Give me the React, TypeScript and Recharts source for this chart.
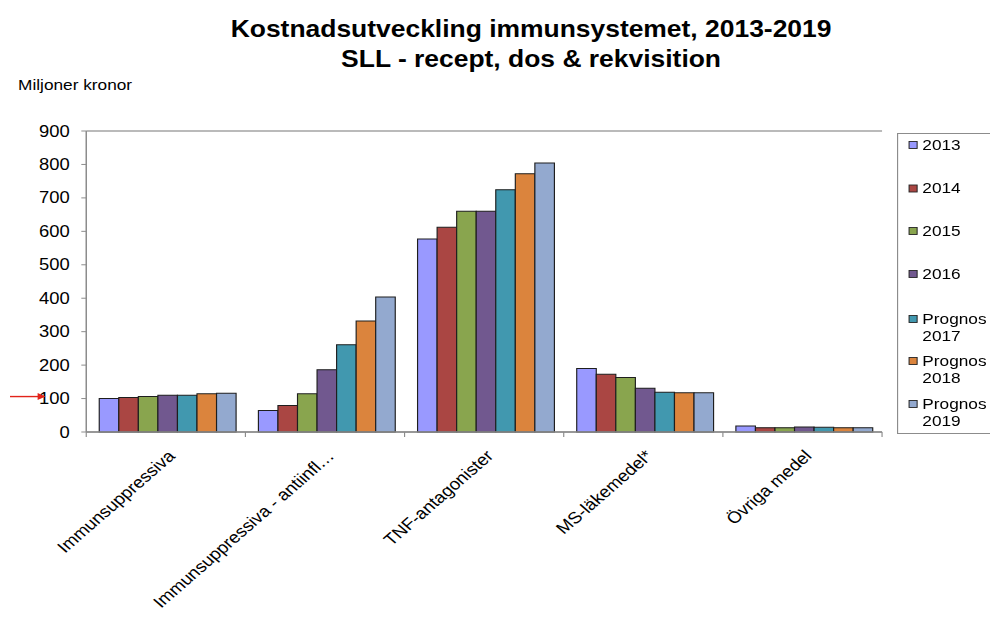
import React from 'react';
import { BarChart, Bar, XAxis, YAxis, CartesianGrid, Legend } from 'recharts';

// ---- data -------------------------------------------------------------
const CATEGORIES = [
  'Immunsuppressiva',
  'Immunsuppressiva - antiinfl…',
  'TNF-antagonister',
  'MS-läkemedel*',
  'Övriga medel',
];

const SERIES_KEYS = ['y2013', 'y2014', 'y2015', 'y2016', 'p2017', 'p2018', 'p2019'];
const SERIES_LABELS = [
  ['2013'],
  ['2014'],
  ['2015'],
  ['2016'],
  ['Prognos', '2017'],
  ['Prognos', '2018'],
  ['Prognos', '2019'],
];

// Miljoner kronor per category, one array per year
const V2013 = [100, 64, 577, 190, 18];
const V2014 = [103, 79, 612, 173, 13];
const V2015 = [106, 114, 660, 163, 13];
const V2016 = [110, 186, 660, 131, 15];
const P2017 = [110, 261, 724, 119, 14];
const P2018 = [114, 332, 772, 117, 13];
const P2019 = [116, 404, 804, 117, 13];
const SERIES_VALUES = [V2013, V2014, V2015, V2016, P2017, P2018, P2019];

const Y_TICKS = [0, 100, 200, 300, 400, 500, 600, 700, 800, 900];
const MARKED_TICK = 100;

// ---- styling ----------------------------------------------------------
const COLORS = ['#9999FF', '#AA4643', '#89A54E', '#71588F', '#4198AF', '#DB843D', '#93A9CF'];
const FONT = '"Liberation Sans", Arial, Helvetica, sans-serif';
const GRID = '#A3A3A3';
const AXIS = '#8C8C8C';

// the whole drawing is laid out on a narrower canvas and widened on the page
const STRETCH = 1.15;
const W = 860;
const H = 617;
const MARGIN = { top: 131, right: 93, bottom: 125, left: 0 };
const Y_AXIS_W = 75;
const X_AXIS_H = 60;
const PLOT_W = W - MARGIN.left - Y_AXIS_W - MARGIN.right;
const BAND = PLOT_W / CATEGORIES.length;

const LEGEND_LEFT = 780;
const LEGEND_TOP = 133;
const LEGEND_H = 300;
const LEGEND_BASELINES = [150, 193.5, 236, 279, 324, 366, 409];
const LEGEND_LINE = 17.5;

const rows = CATEGORIES.map((name, i) => {
  const row: Record<string, string | number> = { name };
  SERIES_KEYS.forEach((k, s) => {
    row[k] = SERIES_VALUES[s][i];
  });
  return row;
});

function YTick(props: any) {
  const { x, y, payload } = props;
  return (
    <g>
      <text x={x} y={y} dy={5.6} textAnchor="end" fontSize={16} fill="#000" fontFamily={FONT}>
        {payload.value}
      </text>
      {payload.value === MARKED_TICK && (
        <g>
          <line x1={x - 52} y1={y - 2} x2={x - 27} y2={y - 2} stroke="#E2231A" strokeWidth={1.4} />
          <polygon points={`${x - 21},${y - 2} ${x - 28},${y - 5.5} ${x - 28},${y + 1.5}`} fill="#E2231A" />
        </g>
      )}
    </g>
  );
}

function XTick(props: any) {
  const { x, y, payload, index } = props;
  const left = x - BAND / 2;
  const right = x + BAND / 2;
  const ax = x + 9;
  const ay = y + 25;
  return (
    <g>
      <line x1={left} y1={y} x2={left} y2={y + 5} stroke={AXIS} strokeWidth={1} />
      {index === CATEGORIES.length - 1 && (
        <line x1={right} y1={y} x2={right} y2={y + 5} stroke={AXIS} strokeWidth={1} />
      )}
      <text
        x={ax}
        y={ay}
        textAnchor="end"
        fontSize={16.3}
        fill="#000"
        fontFamily={FONT}
        transform={`rotate(-45, ${ax}, ${ay})`}
      >
        {payload.value}
      </text>
    </g>
  );
}

function LegendBox() {
  const w = W - LEGEND_LEFT;
  return (
    <svg width={w} height={LEGEND_H + 2} style={{ display: 'block', overflow: 'visible' }}>
      <path
        d={`M${w + 2} 0.5 H0.5 V${LEGEND_H + 0.5} H${w + 2}`}
        stroke={AXIS}
        strokeWidth={1}
        fill="#fff"
      />
      {SERIES_LABELS.map((lines, i) => {
        const base = LEGEND_BASELINES[i] - LEGEND_TOP;
        return (
          <g key={SERIES_KEYS[i]}>
            <rect
              x={10.5}
              y={base - 8.5}
              width={7}
              height={7}
              fill={COLORS[i]}
              stroke="#262626"
              strokeWidth={0.9}
            />
            <text fontSize={15} fill="#000" fontFamily={FONT}>
              {lines.map((t, j) => (
                <tspan key={j} x={22} y={base + j * LEGEND_LINE}>
                  {t}
                </tspan>
              ))}
            </text>
          </g>
        );
      })}
    </svg>
  );
}

export default function App() {
  return (
    <div
      style={{
        position: 'absolute',
        left: 0,
        top: 0,
        width: W,
        height: H,
        background: '#fff',
        fontFamily: FONT,
        transform: `scaleX(${STRETCH})`,
        transformOrigin: '0 0',
      }}
    >
      <svg
        width={W}
        height={H}
        style={{ position: 'absolute', left: 0, top: 0, pointerEvents: 'none' }}
      >
        <text x={461.8} y={37} textAnchor="middle" fontSize={23} fontWeight="bold" fill="#000" fontFamily={FONT}>
          Kostnadsutveckling immunsystemet, 2013-2019
        </text>
        <text x={461.8} y={67} textAnchor="middle" fontSize={23} fontWeight="bold" fill="#000" fontFamily={FONT}>
          SLL - recept, dos &amp; rekvisition
        </text>
        <text x={15.7} y={90} fontSize={15} fill="#000" fontFamily={FONT}>
          Miljoner kronor
        </text>
      </svg>
      <BarChart
        width={W}
        height={H}
        data={rows}
        margin={MARGIN}
        barCategoryGap={11.3}
        barGap={0}
        style={{ position: 'absolute', left: 0, top: 0 }}
      >
        <CartesianGrid vertical={false} stroke={GRID} strokeWidth={1.3} />
        <XAxis
          dataKey="name"
          height={X_AXIS_H}
          tickLine={false}
          tickSize={0}
          tickMargin={0}
          interval={0}
          axisLine={{ stroke: AXIS, strokeWidth: 1.3 }}
          tick={<XTick />}
        />
        <YAxis
          yAxisId="left"
          width={Y_AXIS_W}
          domain={[0, 900]}
          ticks={Y_TICKS}
          interval={0}
          tickSize={4.3}
          tickMargin={10}
          tickLine={{ stroke: AXIS }}
          axisLine={{ stroke: AXIS, strokeWidth: 1.3 }}
          tick={<YTick />}
        />
        <YAxis
          yAxisId="right"
          orientation="right"
          width={0}
          domain={[0, 900]}
          ticks={Y_TICKS}
          tick={false}
          tickLine={false}
          axisLine={{ stroke: AXIS, strokeWidth: 1.3 }}
        />
        {SERIES_KEYS.map((k, i) => (
          <Bar
            key={k}
            yAxisId="left"
            dataKey={k}
            name={SERIES_LABELS[i].join(' ')}
            fill={COLORS[i]}
            stroke="#1E1E1E"
            strokeWidth={1}
            isAnimationActive={false}
          />
        ))}
        <Legend
          layout="vertical"
          align="center"
          verticalAlign="middle"
          wrapperStyle={{ left: LEGEND_LEFT, top: LEGEND_TOP, width: W - LEGEND_LEFT, height: LEGEND_H + 2 }}
          content={() => <LegendBox />}
        />
      </BarChart>
    </div>
  );
}
